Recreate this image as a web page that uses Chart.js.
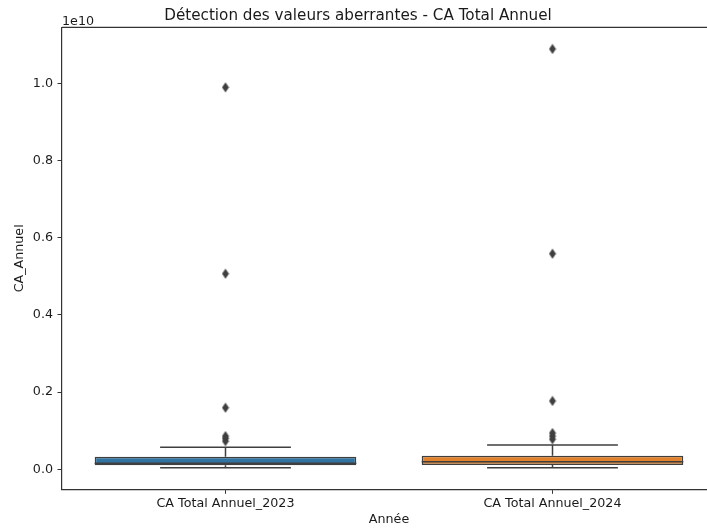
<!DOCTYPE html>
<html lang="fr">
<head>
<meta charset="utf-8">
<title>Détection des valeurs aberrantes - CA Total Annuel</title>
<script src="https://cdn.jsdelivr.net/npm/chart.js@4"></script>
<style>
    html, body { margin: 0; padding: 0; background: #fff; overflow: hidden; }
    #wrap { position: absolute; left: 0; top: 0; width: 778px; height: 530px; }
</style>
</head>
<body>
<div id="wrap"><canvas id="boxChart" width="778" height="530"></canvas></div>
<script>
// Résumé des boîtes par année (valeurs en euros)
const categories = ['CA Total Annuel_2023', 'CA Total Annuel_2024'];
const whiskerLow = [4.0e7, 4.0e7];
const q1 = [1.04e8, 1.11e8];
const medians = [1.55e8, 1.97e8];
const q3 = [3.26e8, 3.52e8];
const whiskerHigh = [5.7e8, 6.3e8];
const outliers2023 = [7.3e8, 8.0e8, 8.6e8, 1.596e9, 5.067e9, 9.896e9];
const outliers2024 = [7.8e8, 8.6e8, 9.4e8, 1.77e9, 5.585e9, 1.0889e10];
const yTicks = [0, 2e9, 4e9, 6e9, 8e9, 1e10];
const boxColors = ['#3274a1', '#e1812c'];

const EDGE = '#3f3f3f';
const FONT = "'DejaVu Sans', sans-serif";
const TEXT = '#1a1a1a';

// petit losange allongé pour les valeurs aberrantes
const makeDiamond = () => {
    const c = document.createElement('canvas');
    c.width = 8;
    c.height = 11;
    const g = c.getContext('2d');
    g.fillStyle = EDGE;
    g.beginPath();
    g.moveTo(4, 0.5);
    g.lineTo(7.5, 5.5);
    g.lineTo(4, 10.5);
    g.lineTo(0.5, 5.5);
    g.closePath();
    g.fill();
    return c;
};
const diamond = makeDiamond();

// moustaches, médianes, cadre et exposant "1e10"
const boxExtras = {
    id: 'boxExtras',
    beforeDatasetsDraw(chart) {
        const { ctx, scales: { x, y } } = chart;
        ctx.save();
        ctx.strokeStyle = EDGE;
        ctx.lineWidth = 1.5;
        categories.forEach((_, i) => {
            const cx = x.getPixelForValue(i);
            const capL = x.getPixelForValue(i - 0.2);
            const capR = x.getPixelForValue(i + 0.2);
            const yLow = y.getPixelForValue(whiskerLow[i]);
            const yHigh = y.getPixelForValue(whiskerHigh[i]);
            ctx.beginPath();
            ctx.moveTo(cx, y.getPixelForValue(q3[i]));
            ctx.lineTo(cx, yHigh);
            ctx.moveTo(cx, y.getPixelForValue(q1[i]));
            ctx.lineTo(cx, yLow);
            ctx.moveTo(capL, yHigh);
            ctx.lineTo(capR, yHigh);
            ctx.moveTo(capL, yLow);
            ctx.lineTo(capR, yLow);
            ctx.stroke();
        });
        ctx.restore();
    },
    afterDatasetsDraw(chart) {
        const { ctx, chartArea, scales: { x, y } } = chart;
        ctx.save();
        ctx.strokeStyle = EDGE;
        ctx.lineWidth = 1.5;
        categories.forEach((_, i) => {
            const ym = y.getPixelForValue(medians[i]);
            ctx.beginPath();
            ctx.moveTo(x.getPixelForValue(i - 0.4), ym);
            ctx.lineTo(x.getPixelForValue(i + 0.4), ym);
            ctx.stroke();
        });
        ctx.strokeStyle = '#333';
        ctx.lineWidth = 1.2;
        ctx.beginPath();
        ctx.moveTo(chartArea.left, chartArea.top);
        ctx.lineTo(chartArea.right, chartArea.top);
        ctx.lineTo(chartArea.right, chartArea.bottom);
        ctx.stroke();
        ctx.fillStyle = TEXT;
        ctx.font = `12.7px ${FONT}`;
        ctx.textAlign = 'left';
        ctx.textBaseline = 'alphabetic';
        ctx.fillText('1e10', chartArea.left, chartArea.top - 2.5);
        ctx.restore();
    }
};

const ctx = document.getElementById('boxChart').getContext('2d');
new Chart(ctx, {
    type: 'bar',
    data: {
        labels: categories,
        datasets: [
            {
                type: 'scatter',
                data: outliers2023.map(v => ({ x: categories[0], y: v }))
                    .concat(outliers2024.map(v => ({ x: categories[1], y: v }))),
                pointStyle: diamond,
                pointRadius: 4,
                order: 0
            },
            {
                data: categories.map((_, i) => [q1[i], q3[i]]),
                backgroundColor: boxColors,
                borderColor: EDGE,
                borderWidth: 1.5,
                borderSkipped: false,
                barPercentage: 0.8,
                categoryPercentage: 1,
                order: 1
            }
        ]
    },
    options: {
        responsive: false,
        animation: false,
        layout: { padding: { left: 0, right: 62, top: 0, bottom: 0 } },
        plugins: {
            legend: { display: false },
            tooltip: { enabled: false },
            title: {
                display: true,
                text: 'Détection des valeurs aberrantes - CA Total Annuel',
                color: TEXT,
                font: { family: FONT, size: 15.2, weight: 'normal' },
                padding: { top: 6.5, bottom: 2.6 }
            }
        },
        scales: {
            x: {
                type: 'category',
                offset: true,
                grid: { offset: false, drawOnChartArea: false, drawTicks: true, tickLength: 4.5, color: '#333' },
                border: { display: true, color: '#333', width: 1.2 },
                ticks: { color: TEXT, padding: 2, font: { family: FONT, size: 12.7 } },
                title: {
                    display: true,
                    text: 'Année',
                    color: TEXT,
                    font: { family: FONT, size: 12.7 },
                    padding: { top: 0, bottom: 2.4 }
                },
                afterFit: scale => { scale.height = 530 - 489.3; }
            },
            y: {
                min: -5.18e8,
                max: 1.145e10,
                grid: { drawOnChartArea: false, drawTicks: true, tickLength: 4.5, color: '#333' },
                border: { display: true, color: '#333', width: 1.2 },
                ticks: {
                    color: TEXT,
                    padding: 4.5,
                    font: { family: FONT, size: 12.7 },
                    callback: v => (v / 1e10).toFixed(1)
                },
                afterBuildTicks: scale => { scale.ticks = yTicks.map(v => ({ value: v })); },
                title: {
                    display: true,
                    text: 'CA_Annuel',
                    color: TEXT,
                    font: { family: FONT, size: 12.7 },
                    padding: { top: 12.4, bottom: 0 }
                },
                afterFit: scale => { scale.width = 62; }
            }
        }
    },
    plugins: [boxExtras]
});
</script>
</body>
</html>
